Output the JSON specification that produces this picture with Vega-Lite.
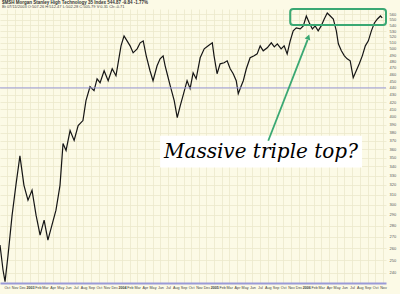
{
  "$schema": "https://vega.github.io/schema/vega-lite/v6.json",
  "autosize": {"type": "none"},
  "width": 386,
  "height": 274,
  "padding": {"left": 0, "top": 9, "right": 14, "bottom": 11},
  "background": "#fcfae6",
  "config": {
    "view": {"stroke": null, "fill": "#fcfae6"},
    "font": "Liberation Sans"
  },
  "title": {
    "text": "$MSH Morgan Stanley High Technology 35 Index   544.87   -9.84   -1.77%",
    "subtitle": "Bt 07/11/2003  O:507.26  H:512.47  L:502.28  C:505.79  V:0.31  Ch:-0.71",
    "anchor": "start",
    "frame": "group",
    "orient": "top",
    "offset": -1,
    "fontSize": 4.5,
    "fontWeight": "bold",
    "color": "#333333",
    "subtitleFontSize": 4,
    "subtitleColor": "#444444",
    "subtitlePadding": 0.5,
    "dx": 2
  },
  "datasets": {
    "price": [
      {"d": "2002-09-04", "v": 262.7},
      {"d": "2002-09-16", "v": 242.1},
      {"d": "2002-09-24", "v": 233.0},
      {"d": "2002-10-06", "v": 254.3},
      {"d": "2002-10-22", "v": 289.8},
      {"d": "2002-11-06", "v": 319.6},
      {"d": "2002-11-22", "v": 352.0},
      {"d": "2002-12-08", "v": 319.6},
      {"d": "2002-12-24", "v": 304.4},
      {"d": "2003-01-09", "v": 314.5},
      {"d": "2003-01-25", "v": 289.8},
      {"d": "2003-02-10", "v": 271.5},
      {"d": "2003-02-26", "v": 285.1},
      {"d": "2003-03-13", "v": 267.1},
      {"d": "2003-03-29", "v": 280.5},
      {"d": "2003-04-14", "v": 294.6},
      {"d": "2003-04-30", "v": 319.6},
      {"d": "2003-05-12", "v": 366.7},
      {"d": "2003-05-24", "v": 358.4},
      {"d": "2003-06-09", "v": 382.6},
      {"d": "2003-06-25", "v": 370.3},
      {"d": "2003-07-11", "v": 388.9},
      {"d": "2003-07-30", "v": 395.3},
      {"d": "2003-08-11", "v": 422.0},
      {"d": "2003-08-27", "v": 441.7},
      {"d": "2003-09-12", "v": 436.0},
      {"d": "2003-09-24", "v": 453.4},
      {"d": "2003-10-06", "v": 447.6},
      {"d": "2003-10-22", "v": 465.5},
      {"d": "2003-11-07", "v": 450.5},
      {"d": "2003-11-23", "v": 468.5},
      {"d": "2003-12-08", "v": 457.9},
      {"d": "2003-12-16", "v": 476.2},
      {"d": "2003-12-28", "v": 505.1},
      {"d": "2004-01-09", "v": 521.9},
      {"d": "2004-01-21", "v": 513.4},
      {"d": "2004-02-02", "v": 505.1},
      {"d": "2004-02-14", "v": 493.7},
      {"d": "2004-03-01", "v": 500.2},
      {"d": "2004-03-13", "v": 510.1},
      {"d": "2004-03-25", "v": 513.4},
      {"d": "2004-04-06", "v": 488.8},
      {"d": "2004-04-21", "v": 465.5},
      {"d": "2004-05-03", "v": 450.5},
      {"d": "2004-05-19", "v": 473.1},
      {"d": "2004-05-31", "v": 484.1},
      {"d": "2004-06-12", "v": 488.8},
      {"d": "2004-06-20", "v": 473.1},
      {"d": "2004-06-28", "v": 460.9},
      {"d": "2004-07-10", "v": 443.2},
      {"d": "2004-07-26", "v": 422.0},
      {"d": "2004-08-07", "v": 399.2},
      {"d": "2004-08-19", "v": 415.2},
      {"d": "2004-08-30", "v": 428.9},
      {"d": "2004-09-15", "v": 450.5},
      {"d": "2004-09-27", "v": 438.9},
      {"d": "2004-10-09", "v": 462.4},
      {"d": "2004-10-21", "v": 453.4},
      {"d": "2004-11-06", "v": 485.7},
      {"d": "2004-11-22", "v": 500.2},
      {"d": "2004-12-08", "v": 505.1},
      {"d": "2004-12-24", "v": 510.1},
      {"d": "2004-12-31", "v": 488.8},
      {"d": "2005-01-12", "v": 460.9},
      {"d": "2005-01-24", "v": 476.2},
      {"d": "2005-02-09", "v": 477.8},
      {"d": "2005-02-21", "v": 480.9},
      {"d": "2005-03-05", "v": 468.5},
      {"d": "2005-03-17", "v": 460.9},
      {"d": "2005-03-29", "v": 450.5},
      {"d": "2005-04-06", "v": 431.8},
      {"d": "2005-04-18", "v": 443.2},
      {"d": "2005-04-26", "v": 450.5},
      {"d": "2005-05-08", "v": 468.5},
      {"d": "2005-05-23", "v": 485.7},
      {"d": "2005-06-08", "v": 488.8},
      {"d": "2005-06-20", "v": 492.0},
      {"d": "2005-07-02", "v": 505.1},
      {"d": "2005-07-14", "v": 496.9},
      {"d": "2005-07-30", "v": 501.8},
      {"d": "2005-08-15", "v": 510.1},
      {"d": "2005-08-27", "v": 503.4},
      {"d": "2005-09-08", "v": 508.4},
      {"d": "2005-09-23", "v": 500.2},
      {"d": "2005-10-05", "v": 505.1},
      {"d": "2005-10-17", "v": 492.0},
      {"d": "2005-10-29", "v": 513.4},
      {"d": "2005-11-10", "v": 530.5},
      {"d": "2005-11-22", "v": 535.7},
      {"d": "2005-12-08", "v": 533.9},
      {"d": "2005-12-20", "v": 539.2},
      {"d": "2006-01-01", "v": 557.1},
      {"d": "2006-01-13", "v": 544.5},
      {"d": "2006-01-25", "v": 533.9},
      {"d": "2006-02-05", "v": 539.2},
      {"d": "2006-02-17", "v": 530.5},
      {"d": "2006-03-01", "v": 539.2},
      {"d": "2006-03-13", "v": 551.7},
      {"d": "2006-03-25", "v": 562.6},
      {"d": "2006-04-06", "v": 557.1},
      {"d": "2006-04-18", "v": 551.7},
      {"d": "2006-04-30", "v": 530.5},
      {"d": "2006-05-08", "v": 508.4},
      {"d": "2006-05-20", "v": 496.9},
      {"d": "2006-06-01", "v": 488.8},
      {"d": "2006-06-12", "v": 484.1},
      {"d": "2006-06-24", "v": 480.9},
      {"d": "2006-07-06", "v": 454.9},
      {"d": "2006-07-18", "v": 465.5},
      {"d": "2006-07-30", "v": 476.2},
      {"d": "2006-08-11", "v": 488.8},
      {"d": "2006-08-23", "v": 505.1},
      {"d": "2006-09-04", "v": 513.4},
      {"d": "2006-09-16", "v": 530.5},
      {"d": "2006-09-28", "v": 544.5},
      {"d": "2006-10-10", "v": 551.7},
      {"d": "2006-10-22", "v": 557.1},
      {"d": "2006-10-29", "v": 553.5}
    ]
  },
  "layer": [
    {
      "data": {"name": "price"},
      "mark": {"type": "line", "color": "#151515", "strokeWidth": 1.2, "strokeJoin": "miter"},
      "encoding": {
        "x": {
          "field": "d", "type": "temporal",
          "scale": {"domain": [{"year": 2002, "month": 9, "date": 4}, {"year": 2006, "month": 11, "date": 13}]},
          "axis": {
            "title": null, "orient": "bottom",
            "tickCount": {"interval": "month", "step": 1},
            "labelExpr": "month(datum.value) == 0 ? timeFormat(datum.value, '%Y') : timeFormat(datum.value, '%b')",
            "labelFontWeight": {"condition": {"test": "month(datum.value) == 0", "value": "bold"}, "value": "normal"},
            "labelFontSize": 3.7, "labelColor": "#444444", "labelOverlap": false, "labelPadding": 2,
            "ticks": false, "grid": true, "gridColor": "#ebe8cc", "gridWidth": 0.8,
            "domainColor": "#9a9ad8", "domainWidth": 2
          }
        },
        "y": {
          "field": "v", "type": "quantitative",
          "scale": {"type": "log", "domain": [232, 570], "nice": false, "zero": false},
          "axis": {
            "title": null, "orient": "right",
            "values": [240, 250, 260, 270, 280, 290, 300, 310, 320, 330, 340, 350, 360, 370, 380, 390, 400, 410, 420, 430, 440, 450, 460, 470, 480, 490, 500, 510, 520, 530, 540, 550, 560],
            "labelFontSize": 4, "labelColor": "#555555", "labelPadding": 3,
            "ticks": false, "domain": false, "grid": true, "gridColor": "#ebe8cc", "gridWidth": 0.8
          }
        }
      }
    },
    {
      "data": {"values": [{"v": 440}]},
      "mark": {"type": "rule", "color": "#9a9ad8", "strokeWidth": 1},
      "encoding": {"y": {"field": "v", "type": "quantitative", "scale": {"type": "log", "domain": [232, 570], "nice": false, "zero": false}}}
    },
    {
      "data": {"values": [{"d": "2004-05-31", "d2": "2006-08-10", "v": 376, "v2": 339}]},
      "mark": {"type": "rect", "fill": "#ffffff"},
      "encoding": {
        "x": {"field": "d", "type": "temporal", "scale": {"domain": [{"year": 2002, "month": 9, "date": 4}, {"year": 2006, "month": 11, "date": 13}]}},
        "x2": {"field": "d2"},
        "y": {"field": "v", "type": "quantitative", "scale": {"type": "log", "domain": [232, 570], "nice": false, "zero": false}},
        "y2": {"field": "v2"}
      }
    },
    {
      "data": {"values": [{"d": "2005-10-29", "d2": "2006-11-13", "v": 570, "v2": 541}]},
      "mark": {"type": "rect", "fill": null, "fillOpacity": 0, "stroke": "#3aa873", "strokeWidth": 2, "cornerRadius": 3, "clip": false},
      "encoding": {
        "x": {"field": "d", "type": "temporal", "scale": {"domain": [{"year": 2002, "month": 9, "date": 4}, {"year": 2006, "month": 11, "date": 13}]}},
        "x2": {"field": "d2"},
        "y": {"field": "v", "type": "quantitative", "scale": {"type": "log", "domain": [232, 570], "nice": false, "zero": false}},
        "y2": {"field": "v2"}
      }
    },
    {
      "data": {"values": [{"d": "2005-08-03", "d2": "2006-01-06", "v": 370, "v2": 515}]},
      "mark": {"type": "rule", "color": "#3aa873", "strokeWidth": 1.8},
      "encoding": {
        "x": {"field": "d", "type": "temporal", "scale": {"domain": [{"year": 2002, "month": 9, "date": 4}, {"year": 2006, "month": 11, "date": 13}]}},
        "x2": {"field": "d2"},
        "y": {"field": "v", "type": "quantitative", "scale": {"type": "log", "domain": [232, 570], "nice": false, "zero": false}},
        "y2": {"field": "v2"}
      }
    },
    {
      "data": {"values": [{"d": "2006-01-09", "v": 520}]},
      "mark": {"type": "point", "shape": "triangle-up", "filled": true, "color": "#3aa873", "size": 35, "angle": 20, "opacity": 1},
      "encoding": {
        "x": {"field": "d", "type": "temporal", "scale": {"domain": [{"year": 2002, "month": 9, "date": 4}, {"year": 2006, "month": 11, "date": 13}]}},
        "y": {"field": "v", "type": "quantitative", "scale": {"type": "log", "domain": [232, 570], "nice": false, "zero": false}}
      }
    },
    {
      "data": {"values": [{"d": "2005-07-05", "v": 350, "label": "Massive triple top?"}]},
      "mark": {"type": "text", "font": "DejaVu Serif", "fontStyle": "italic", "fontSize": 20, "color": "#000000", "align": "center", "baseline": "alphabetic"},
      "encoding": {
        "x": {"field": "d", "type": "temporal", "scale": {"domain": [{"year": 2002, "month": 9, "date": 4}, {"year": 2006, "month": 11, "date": 13}]}},
        "y": {"field": "v", "type": "quantitative", "scale": {"type": "log", "domain": [232, 570], "nice": false, "zero": false}},
        "text": {"field": "label"}
      }
    }
  ]
}
